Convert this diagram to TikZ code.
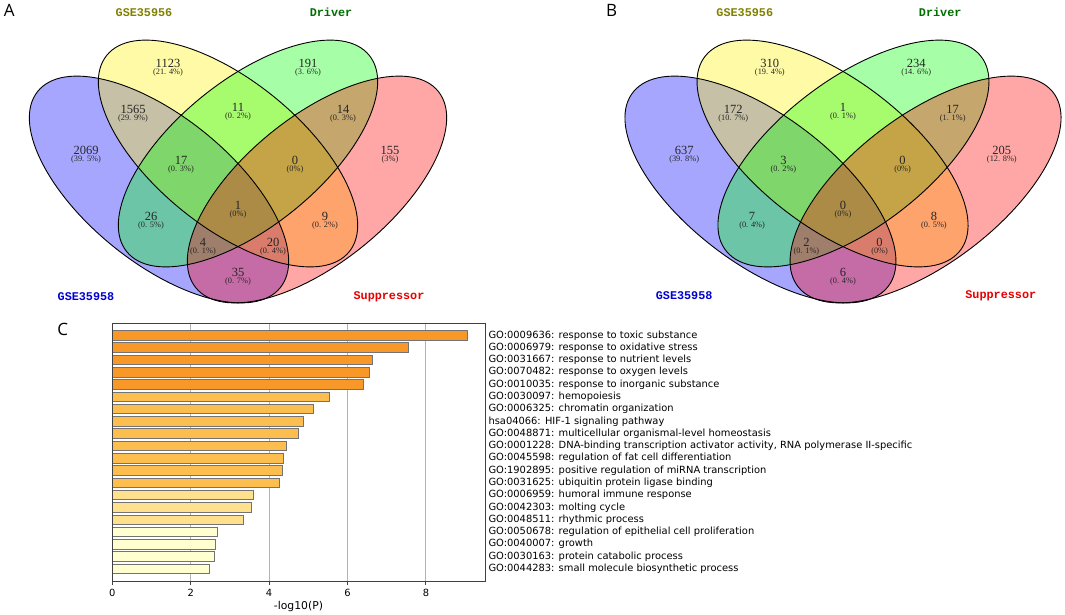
\documentclass[tikz,border=0pt]{standalone}
\usepackage{fontspec}
\newfontfamily\vennfont{Liberation Mono}
\newfontfamily\countfont{Liberation Serif}
\newfontfamily\plotfont{DejaVu Sans}
\newfontfamily\letterfont{Open Sans}
\definecolor{titleyellow}{RGB}{128,128,0}
\definecolor{titlegreen}{RGB}{0,110,0}
\definecolor{titleblue}{RGB}{0,0,210}
\definecolor{titlered}{RGB}{230,0,0}
\definecolor{barone}{RGB}{248,152,40}
\definecolor{bartwo}{RGB}{253,190,80}
\definecolor{barthree}{RGB}{255,224,140}
\definecolor{barfour}{RGB}{255,255,208}
\tikzset{
  vennfill/.style={fill=#1, fill opacity=0.35},
  vennline/.style={draw=black, line width=0.9pt},
  cnt/.style={font=\countfont\fontsize{12.5}{12.5}\selectfont, text=black!85, inner sep=0pt},
  pct/.style={font=\countfont\fontsize{8.3}{8.3}\selectfont, text=black!85, inner sep=0pt},
  settitle/.style={font=\vennfont\bfseries\fontsize{11.8}{12}\selectfont, text=#1, inner sep=0pt},
  panel/.style={font=\letterfont\fontsize{17}{17}\selectfont, inner sep=0pt},
  gobar/.style={fill=#1, draw=black!55, line width=0.8pt},
  golabel/.style={font=\plotfont\fontsize{9.9}{11}\selectfont, anchor=west, inner sep=0pt},
  ticklabel/.style={font=\plotfont\fontsize{9.9}{11}\selectfont, inner sep=0pt},
}
\begin{document}
\begin{tikzpicture}[x=1pt, y=-1pt]
\useasboundingbox (0,0) rectangle (1065,614);

% panel A
\fill[vennfill=blue] (159,189.5) ellipse [x radius=156pt, y radius=73pt, rotate=-39];
\fill[vennfill=yellow] (228,153.5) ellipse [x radius=156pt, y radius=73pt, rotate=-39];
\fill[vennfill=green] (248,153.5) ellipse [x radius=156pt, y radius=73pt, rotate=39];
\fill[vennfill=red] (317,189.5) ellipse [x radius=156pt, y radius=73pt, rotate=39];
\draw[vennline] (159,189.5) ellipse [x radius=156pt, y radius=73pt, rotate=-39];
\draw[vennline] (228,153.5) ellipse [x radius=156pt, y radius=73pt, rotate=-39];
\draw[vennline] (248,153.5) ellipse [x radius=156pt, y radius=73pt, rotate=39];
\draw[vennline] (317,189.5) ellipse [x radius=156pt, y radius=73pt, rotate=39];
\node[panel] (lblA) at (9.2,10.8) {A};
\node[settitle=titleyellow] (aYt) at (144,12.5) {GSE35956};
\node[settitle=titlegreen] (aDt) at (331,12.5) {Driver};
\node[settitle=titleblue] (aBt) at (86,297) {GSE35958};
\node[settitle=titlered] (aSt) at (389,297) {Suppressor};
\foreach \nm/\px/\py/\num/\per in {
    Y/168/63/1123/21. 4, D/308/63/191/3. 6,
    BY/133/109/1565/29. 9, YD/238/107/11/0. 2, DS/343/109/14/0. 3,
    B/86/150/2069/39. 5, S/390/150/155/3,
    BYD/181/160/17/0. 3, YDS/295/160/0/0,
    BYDS/238/205/1/0, BD/151/216/26/0. 5, YS/325/216/9/0. 2,
    BDS/203/242/4/0. 1, BYS/273/242/20/0. 4, BS/238/272/35/0. 7} {
  \node[cnt] (a\nm) at (\px,\py) {\num};
  \node[pct] (a\nm p) at (\px,\py+9.5) {(\per\%)};
}

% panel B
\begin{scope}[shift={(843,0)}, xscale=1.045, shift={(-238,0)}]
\fill[vennfill=blue] (159,189.5) ellipse [x radius=156pt, y radius=73pt, rotate=-39];
\fill[vennfill=yellow] (228,153.5) ellipse [x radius=156pt, y radius=73pt, rotate=-39];
\fill[vennfill=green] (248,153.5) ellipse [x radius=156pt, y radius=73pt, rotate=39];
\fill[vennfill=red] (317,189.5) ellipse [x radius=156pt, y radius=73pt, rotate=39];
\draw[vennline] (159,189.5) ellipse [x radius=156pt, y radius=73pt, rotate=-39];
\draw[vennline] (228,153.5) ellipse [x radius=156pt, y radius=73pt, rotate=-39];
\draw[vennline] (248,153.5) ellipse [x radius=156pt, y radius=73pt, rotate=39];
\draw[vennline] (317,189.5) ellipse [x radius=156pt, y radius=73pt, rotate=39];
\node[settitle=titleyellow] (bYt) at (144,12.5) {GSE35956};
\node[settitle=titlegreen] (bDt) at (331,12.5) {Driver};
\node[settitle=titleblue] (bBt) at (86,296) {GSE35958};
\node[settitle=titlered] (bSt) at (389,296) {Suppressor};
\foreach \nm/\px/\py/\num/\per in {
    Y/168/63/310/19. 4, D/308/63/234/14. 6,
    BY/133/109/172/10. 7, YD/238/107/1/0. 1, DS/343/109/17/1. 1,
    B/86/150/637/39. 8, S/390/150/205/12. 8,
    BYD/181/160/3/0. 2, YDS/295/160/0/0,
    BYDS/238/205/0/0, BD/151/216/7/0. 4, YS/325/216/8/0. 5,
    BDS/203/242/2/0. 1, BYS/273/242/0/0, BS/238/272/6/0. 4} {
  \node[cnt] (b\nm) at (\px,\py) {\num};
  \node[pct] (b\nm p) at (\px,\py+9.5) {(\per\%)};
}
\end{scope}
\node[panel] (lblB) at (611.7,10.8) {B};

% panel C
\node[panel] (lblC) at (62.7,329.5) {C};
\foreach \t in {2,4,6,8}
  \draw[black!30, line width=0.9pt] (112.3+39.2*\t,323.3) -- (112.3+39.2*\t,581);
\foreach \v/\col/\txt [count=\i] in {
    9.06/barone/{GO:0009636: response to toxic substance},
    7.56/barone/{GO:0006979: response to oxidative stress},
    6.64/barone/{GO:0031667: response to nutrient levels},
    6.57/barone/{GO:0070482: response to oxygen levels},
    6.40/barone/{GO:0010035: response to inorganic substance},
    5.55/bartwo/{GO:0030097: hemopoiesis},
    5.14/bartwo/{GO:0006325: chromatin organization},
    4.87/bartwo/{hsa04066: HIF-1 signaling pathway},
    4.76/bartwo/{GO:0048871: multicellular organismal-level homeostasis},
    4.44/bartwo/{GO:0001228: DNA-binding transcription activator activity, RNA polymerase II-specific},
    4.36/bartwo/{GO:0045598: regulation of fat cell differentiation},
    4.34/bartwo/{GO:1902895: positive regulation of miRNA transcription},
    4.25/bartwo/{GO:0031625: ubiquitin protein ligase binding},
    3.60/barthree/{GO:0006959: humoral immune response},
    3.56/barthree/{GO:0042303: molting cycle},
    3.35/barthree/{GO:0048511: rhythmic process},
    2.68/barfour/{GO:0050678: regulation of epithelial cell proliferation},
    2.63/barfour/{GO:0040007: growth},
    2.61/barfour/{GO:0030163: protein catabolic process},
    2.47/barfour/{GO:0044283: small molecule biosynthetic process}} {
  \pgfmathsetmacro\yc{335.3+(\i-1)*12.29}
  \draw[gobar=\col] (112.3,\yc-4.75) rectangle (112.3+39.2*\v,\yc+4.75);
  \node[golabel] (go\i) at (488.3,\yc) {\txt};
}
\draw[black!75, line width=1pt] (112.3,323.3) rectangle (485,581);
\foreach \t in {0,2,4,6,8} {
  \draw[black!75, line width=0.9pt] (112.3+39.2*\t,581) -- (112.3+39.2*\t,584.5);
  \node[ticklabel] (tick\t) at (112.3+39.2*\t,592.5) {\t};
}
\node[ticklabel, font=\plotfont\fontsize{10.8}{12}\selectfont] (xlabel) at (298.5,607) {-log10(P)};
\end{tikzpicture}
\end{document}
